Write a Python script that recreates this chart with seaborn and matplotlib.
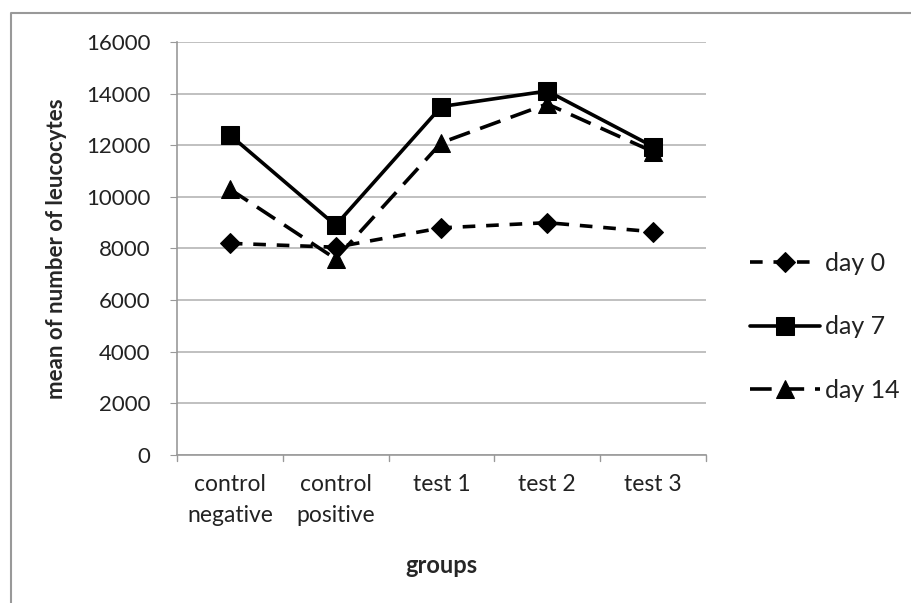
import pandas as pd
import matplotlib.pyplot as plt
import seaborn as sns
from matplotlib.lines import Line2D

# Chart data
groups = ["control\nnegative", "control\npositive", "test 1", "test 2", "test 3"]
day0 = [8200, 8050, 8800, 9000, 8650]
day7 = [12400, 8900, 13500, 14100, 11950]
day14 = [10300, 7600, 12100, 13600, 11750]
y_ticks = [0, 2000, 4000, 6000, 8000, 10000, 12000, 14000, 16000]

sns.set_style("white")
plt.rcParams["font.family"] = ["Lato", "DejaVu Sans"]
plt.rcParams["text.color"] = "#222222"
plt.rcParams["xtick.labelcolor"] = "#222222"
plt.rcParams["ytick.labelcolor"] = "#222222"

fig = plt.figure(figsize=(9.12, 6.03), dpi=100)
ax = fig.add_axes([0.194, 0.2454, 0.580, 0.685])

x = list(range(len(groups)))
series = [
    ("day 0", day0, "D", 10, (0, (3.5, 3))),
    ("day 7", day7, "s", 12.5, "-"),
    ("day 14", day14, "^", 12.5, (0, (6, 3))),
]
for name, vals, marker, ms, ls in series:
    df = pd.DataFrame({"group": x, "value": vals})
    sns.lineplot(data=df, x="group", y="value", ax=ax, color="black",
                 marker=marker, markersize=ms, linewidth=2.6, linestyle=ls,
                 markeredgecolor="black", label=name)

ax.set_xlim(-0.5, len(groups) - 0.5)
ax.set_ylim(0, 16000)
ax.set_yticks(y_ticks)
ax.set_yticklabels([str(v) for v in y_ticks], fontsize=16)
ax.set_xticks(x)
ax.set_xticklabels(groups, fontsize=16.5, linespacing=1.55)
ax.tick_params(axis="x", length=0, pad=14)
ax.tick_params(axis="y", length=5, color="#999999", left=True, pad=14)
for b in [i - 0.5 for i in range(len(groups) + 1)]:
    ax.plot([b, b], [0, -250], color="#999999", lw=1, clip_on=False)

ax.grid(axis="y", color="#bbbbbb", lw=1.3)
ax.set_axisbelow(True)
for s in ["top", "right"]:
    ax.spines[s].set_visible(False)
for s in ["left", "bottom"]:
    ax.spines[s].set_color("#999999")
    ax.spines[s].set_linewidth(1.2)

ax.set_xlabel("groups", fontsize=17, fontweight="bold", labelpad=20)
ax.set_ylabel("mean of number of leucocytes", fontsize=16, fontweight="bold")
ax.yaxis.set_label_coords(-0.207, 0.5)

ax.legend(loc="center left", bbox_to_anchor=(1.04, 0.31), frameon=False,
          fontsize=18, handlelength=2.8, labelspacing=1.62, handletextpad=0.2)

# partial frame like the source screenshot
fig.lines.append(Line2D([11 / 912, 11 / 912, 1], [0, 1 - 13 / 603, 1 - 13 / 603],
                        transform=fig.transFigure, color="#999999", lw=1.5))

plt.savefig("out.png", dpi=100)
plt.close()
